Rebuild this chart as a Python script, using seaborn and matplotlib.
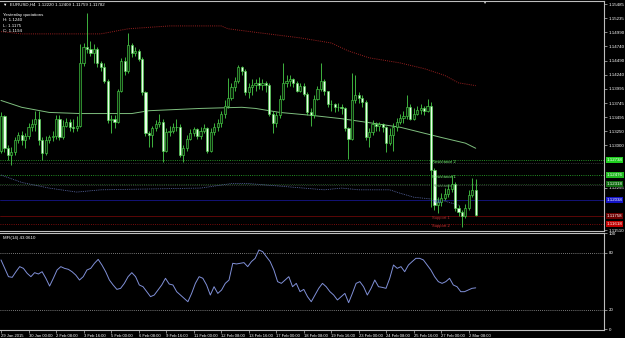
import numpy as np
import pandas as pd
import matplotlib
matplotlib.use("Agg")
import matplotlib.pyplot as plt
import seaborn as sns

# ---------------- data (EURUSD H4) ----------------
open_first = 1.1291
close = [1.1351, 1.1295, 1.1283, 1.1288, 1.1309, 1.1318, 1.1309, 1.1316, 1.1333, 1.1337,
         1.1347, 1.1309, 1.1286, 1.1309, 1.1314, 1.1316, 1.1347, 1.1314, 1.1335, 1.1342,
         1.1333, 1.1330, 1.1335, 1.1444, 1.1473, 1.1470, 1.1463, 1.1470, 1.1445, 1.1438,
         1.1414, 1.1344, 1.1347, 1.1342, 1.1396, 1.1449, 1.1431, 1.1477, 1.1463, 1.1466,
         1.1452, 1.1393, 1.1321, 1.1318, 1.1330, 1.1337, 1.1342, 1.1291, 1.1323, 1.1326,
         1.1332, 1.1333, 1.1284, 1.1295, 1.1312, 1.1321, 1.1328, 1.1316, 1.1326, 1.1330,
         1.1291, 1.1323, 1.1332, 1.1340, 1.1356, 1.1370, 1.1384, 1.1403, 1.1414, 1.1437,
         1.1431, 1.1393, 1.1402, 1.1407, 1.1410, 1.1407, 1.1410, 1.1407, 1.1356, 1.1340,
         1.1353, 1.1382, 1.1410, 1.1414, 1.1416, 1.1410, 1.1396, 1.1405, 1.1391, 1.1358,
         1.1353, 1.1382, 1.1400, 1.1414, 1.1395, 1.1372, 1.1372, 1.1367, 1.1368, 1.1365,
         1.1330, 1.1312, 1.1379, 1.1388, 1.1384, 1.1377, 1.1314, 1.1323, 1.1337, 1.1335,
         1.1337, 1.1332, 1.1304, 1.1318, 1.1333, 1.1342, 1.1349, 1.1351, 1.1367, 1.1347,
         1.1356, 1.1363, 1.1365, 1.1361, 1.1370, 1.1256, 1.1195, 1.1200, 1.1207, 1.1214,
         1.1223, 1.1232, 1.1190, 1.1183, 1.1176, 1.1190, 1.1213, 1.1222, 1.11782]
high = [1.1358, 1.1353, 1.1300, 1.1297, 1.1314, 1.1323, 1.1326, 1.1321, 1.1340, 1.1347,
        1.1361, 1.1361, 1.1314, 1.1316, 1.1319, 1.1326, 1.1353, 1.1353, 1.1344, 1.1349,
        1.1347, 1.1347, 1.1351, 1.1479, 1.1480, 1.1533, 1.1484, 1.1479, 1.1473, 1.1449,
        1.1444, 1.1417, 1.1353, 1.1353, 1.1400, 1.1454, 1.1456, 1.1498, 1.1480, 1.1473,
        1.1470, 1.1456, 1.1396, 1.1326, 1.1335, 1.1344, 1.1356, 1.1346, 1.1330, 1.1335,
        1.1340, 1.1347, 1.1337, 1.1300, 1.1318, 1.1328, 1.1333, 1.1330, 1.1333, 1.1337,
        1.1333, 1.1330, 1.1339, 1.1347, 1.1361, 1.1379, 1.1419, 1.1410, 1.1421, 1.1442,
        1.1440, 1.1435, 1.1410, 1.1417, 1.1417, 1.1421, 1.1417, 1.1414, 1.1410, 1.1361,
        1.1358, 1.1388, 1.1445, 1.1423, 1.1423, 1.1419, 1.1414, 1.1410, 1.1410, 1.1393,
        1.1365, 1.1389, 1.1405, 1.1445, 1.1417, 1.1396, 1.1379, 1.1375, 1.1375, 1.1372,
        1.1367, 1.1333, 1.1428, 1.1423, 1.1393, 1.1389, 1.1379, 1.1330, 1.1344, 1.1342,
        1.1342, 1.1340, 1.1335, 1.1330, 1.1339, 1.1349, 1.1356, 1.1361, 1.1388, 1.1372,
        1.1365, 1.1370, 1.1372, 1.1370, 1.1382, 1.1377, 1.1260, 1.1209, 1.1216, 1.1225,
        1.1232, 1.1248, 1.1235, 1.1195, 1.1186, 1.1197, 1.1222, 1.1242, 1.12409]
low = [1.1286, 1.1288, 1.1274, 1.1265, 1.1283, 1.1304, 1.1300, 1.1295, 1.1312, 1.1326,
       1.1326, 1.1300, 1.1274, 1.1283, 1.1305, 1.1307, 1.1312, 1.1309, 1.1311, 1.1332,
       1.1326, 1.1323, 1.1326, 1.1332, 1.1440, 1.1463, 1.1458, 1.1445, 1.1438, 1.1431,
       1.1410, 1.1340, 1.1321, 1.1330, 1.1339, 1.1393, 1.1423, 1.1428, 1.1456, 1.1458,
       1.1449, 1.1389, 1.1316, 1.1297, 1.1297, 1.1326, 1.1332, 1.1270, 1.1288, 1.1316,
       1.1321, 1.1325, 1.1279, 1.1270, 1.1291, 1.1309, 1.1316, 1.1311, 1.1312, 1.1321,
       1.1286, 1.1288, 1.1318, 1.1326, 1.1333, 1.1349, 1.1365, 1.1379, 1.1396, 1.1410,
       1.1424, 1.1388, 1.1384, 1.1389, 1.1396, 1.1400, 1.1398, 1.1393, 1.1351, 1.1321,
       1.1333, 1.1349, 1.1379, 1.1403, 1.1405, 1.1403, 1.1393, 1.1393, 1.1386, 1.1353,
       1.1335, 1.1349, 1.1379, 1.1396, 1.1389, 1.1367, 1.1361, 1.1358, 1.1361, 1.1356,
       1.1325, 1.1277, 1.1309, 1.1374, 1.1375, 1.1368, 1.1309, 1.1297, 1.1318, 1.1326,
       1.1326, 1.1323, 1.1288, 1.1300, 1.1291, 1.1326, 1.1337, 1.1340, 1.1347, 1.1344,
       1.1344, 1.1353, 1.1356, 1.1354, 1.1358, 1.1192, 1.1186, 1.1181, 1.1193, 1.1204,
       1.1209, 1.1218, 1.1185, 1.1176, 1.1157, 1.1172, 1.1186, 1.1209, 1.11759]

# moving averages (knots: bar index, price)
ma_red_bars = [0, 6, 29, 37, 49, 64, 66, 75, 87, 96, 101, 107, 116, 123, 129, 133, 138]
ma_red_vals = [1.1500, 1.1496, 1.1496, 1.1505, 1.1510, 1.1510, 1.1505, 1.1498, 1.1489,
               1.1480, 1.1466, 1.1454, 1.1445, 1.1435, 1.1423, 1.1410, 1.1405]
ma_green_bars = [0, 6, 14, 23, 38, 43, 58, 70, 74, 81, 90, 99, 107, 116, 122, 128, 135, 138]
ma_green_vals = [1.1379, 1.1367, 1.1358, 1.1356, 1.1356, 1.1361, 1.1365, 1.1367, 1.1365,
                 1.1358, 1.1353, 1.1347, 1.1340, 1.1332, 1.1323, 1.1314, 1.1304, 1.1295]
ma_blue_bars = [0, 6, 14, 22, 29, 58, 67, 72, 78, 94, 99, 104, 113, 116, 120, 128, 133]
ma_blue_vals = [1.1248, 1.1235, 1.1225, 1.1218, 1.1222, 1.1225, 1.1233, 1.1233, 1.1230,
                1.1222, 1.1225, 1.1222, 1.1222, 1.1216, 1.1209, 1.1204, 1.1195]

# pivot levels
pivot_names = ["Resistance 2", "Resistance 1", "Resistance", "Pivot", "Support 1", "Support 2"]
pivot_vals = [1.12738, 1.12476, 1.12318, 1.12038, 1.11758, 1.11618]
pivot_colors = ["#1fd01f", "#1fb81f", "#0f6a0f", "#1414c8", "#6a0000", "#c00000"]
pivot_line_colors = ["#2fbf2f", "#2fbf2f", "#2a6a2a", "#16168a", "#6a0808", "#a01010"]
pivot_text_colors = ["#7dff7d", "#7dff7d", "#5a9a5a", "#4a5cd8", "#b03030", "#d03030"]
pivot_line_styles = [":", ":", ":", "-", "-", ":"]

price_ticks = [1.15485, 1.15235, 1.14990, 1.14740, 1.14490, 1.14240, 1.13995, 1.13745,
               1.13495, 1.13250, 1.13000, 1.12255, 1.11510]

mfi = [72.3, 63.5, 54.8, 54.1, 60.0, 65.3, 63.5, 58.3, 54.8, 59.0, 57.6, 60.0, 53.1, 45.0,
       53.1, 61.8, 65.3, 63.5, 62.5, 60.0, 56.5, 51.3, 54.8, 61.8, 63.5, 68.8, 72.9, 67.0,
       60.0, 51.3, 46.1, 41.5, 42.6, 47.8, 54.8, 59.0, 54.8, 46.1, 44.3, 39.1, 33.9, 35.6,
       40.8, 46.1, 53.1, 47.1, 46.1, 39.1, 35.6, 32.1, 28.6, 37.3, 47.8, 54.8, 53.1, 46.1,
       35.6, 44.3, 37.3, 40.8, 47.8, 51.3, 68.8, 68.1, 68.8, 69.5, 65.3, 70.6, 74.0, 82.7,
       81.0, 75.7, 70.6, 61.8, 49.6, 47.8, 51.3, 54.8, 44.3, 47.8, 39.1, 41.5, 33.9, 28.6,
       35.6, 42.6, 47.8, 44.3, 39.1, 35.6, 30.4, 33.9, 37.3, 27.6, 37.3, 47.8, 49.6, 44.3,
       35.6, 42.6, 51.3, 44.3, 43.6, 42.6, 53.1, 67.0, 63.5, 65.3, 60.0, 67.0, 70.6, 74.0,
       74.0, 72.3, 67.0, 61.8, 54.8, 49.6, 47.8, 49.6, 53.1, 46.1, 44.3, 39.1, 39.1, 40.8,
       42.6, 43.1]
mfi_levels = [80, 20]

date_labels = ["29 Jan 2015", "30 Jan 00:00", "2 Feb 08:00", "3 Feb 16:00", "5 Feb 00:00",
               "6 Feb 08:00", "9 Feb 16:00", "11 Feb 00:00", "12 Feb 08:00", "13 Feb 16:00",
               "17 Feb 00:00", "18 Feb 08:00", "19 Feb 16:00", "23 Feb 00:00", "24 Feb 08:00",
               "25 Feb 16:00", "27 Feb 00:00", "2 Mar 08:00"]
date_label_bars = list(range(0, 137, 8))

# ---------------- styling ----------------
sns.set_theme(style="dark", rc={"axes.facecolor": "black", "figure.facecolor": "black"})
plt.rcParams["font.family"] = ["Liberation Sans", "DejaVu Sans"]
FS = 3.2

W, H = 625, 338
fig = plt.figure(figsize=(W / 100, H / 100), dpi=100, facecolor="black")
ax = fig.add_axes([0, 1 - 231 / H, 604 / W, 230 / H])
ax2 = fig.add_axes([0, 1 - 330 / H, 604 / W, 97 / H])
for a in (ax, ax2):
    a.set_facecolor("black")
    for s in a.spines.values():
        s.set_color("#bdbdbd")
        s.set_linewidth(0.8)
    a.spines["left"].set_visible(False)
    a.grid(False)

n = len(close)
bars = np.arange(n)
close_a = np.array(close)
open_a = np.concatenate([[open_first], close_a[:-1]])
high_a = np.array(high)
low_a = np.array(low)

# horizontal pivot lines
for v, c, ls in zip(pivot_vals, pivot_line_colors, pivot_line_styles):
    ax.axhline(v, color=c, lw=0.6, ls=ls, zorder=1)
ax.axhline(1.1269, color="#606060", lw=0.5, ls=":", zorder=1)
ax.axhline(1.1230, color="#606060", lw=0.5, ls=":", zorder=1)

# moving averages via seaborn
sns.lineplot(x=ma_red_bars, y=ma_red_vals, ax=ax, color="#9a2020", lw=0.7,
             linestyle=(0, (1, 1.2)), zorder=2)
sns.lineplot(x=ma_green_bars, y=ma_green_vals, ax=ax, color="#7fbf7f", lw=0.7, zorder=2)
sns.lineplot(x=ma_blue_bars, y=ma_blue_vals, ax=ax, color="#5f6fb0", lw=0.6,
             linestyle=(0, (1, 1.2)), zorder=2)

# candles
green = "#48d048"
ax.vlines(bars, low_a, high_a, color=green, lw=0.6, zorder=3)
bull = close_a >= open_a
body_lo = np.minimum(open_a, close_a)
body_h = np.maximum(np.abs(close_a - open_a), 0.00006)
ax.bar(bars[bull], body_h[bull], bottom=body_lo[bull], width=0.62,
       color="#0a200a", edgecolor=green, linewidth=0.45, zorder=4)
ax.bar(bars[~bull], body_h[~bull], bottom=body_lo[~bull], width=0.62,
       color="#eaffea", edgecolor=green, linewidth=0.45, zorder=4)

# pivot names on chart
for name, v, tc in zip(pivot_names, pivot_vals, pivot_text_colors):
    ax.text(125.4, v, name, fontsize=3.0, color=tc, va="top", ha="left", zorder=5)

ax.set_xlim((0 - 1) / 3.44, (604 - 1) / 3.44)
ax.set_ylim(1.11496, 1.15538)
ax.set_xticks([])
ax.yaxis.tick_right()
ax.set_yticks(price_ticks)
ax.set_yticklabels([f"{t:.5f}" for t in price_ticks])
ax.tick_params(axis="y", colors="#bdbdbd", labelcolor="white", labelsize=FS,
               length=2, width=0.5, pad=1.2, right=True, left=False)

# pivot value boxes on the price scale
for v, c in zip(pivot_vals, pivot_colors):
    ax.text(1.0045, v, f"{v:.5f}", transform=ax.get_yaxis_transform(), fontsize=FS,
            color="white", va="center", ha="left", zorder=10, clip_on=False,
            bbox=dict(boxstyle="square,pad=0.2", fc=c, ec="none"))

# header texts
fig.text(3 / W, 1 - 5 / H, "\u25bc  EURUSD,H4  1.12220 1.12409 1.11759 1.11782",
         fontsize=FS, color="white", va="center", ha="left")
for i, t in enumerate(["Yesterday quotations", "H: 1.1240", "L: 1.1175", "C: 1.1194"]):
    fig.text(3 / W, 1 - (15 + i * 5.3) / H, t, fontsize=FS, color="white",
             va="center", ha="left")
fig.text(484 / W, 1 - 3 / H, "\u25bc", fontsize=3.0, color="#d0d0d0", va="center", ha="center")

# MFI sub window
ax2.set_xlim(ax.get_xlim())
ax2.set_ylim(-1.0, 100.5)
for lv in mfi_levels:
    ax2.axhline(lv, color="#a0a0a0", lw=0.6, ls=(0, (1, 1.5)), zorder=1)
mfi_x = np.linspace(0, n - 1, len(mfi))
sns.lineplot(x=mfi_x, y=mfi, ax=ax2, color="#8090d8", lw=0.7, zorder=3)
ax2.text(0.005, 0.965, "MFI(14) 43.0610", transform=ax2.transAxes, fontsize=FS,
         color="white", va="top", ha="left")
ax2.yaxis.tick_right()
ax2.set_yticks([100, 80, 20, 0])
ax2.set_yticklabels(["100", "80", "20", "0"])
ax2.tick_params(axis="y", colors="#bdbdbd", labelcolor="white", labelsize=FS,
                length=2, width=0.5, pad=1.2, right=True, left=False)
ax2.set_xticks(date_label_bars)
ax2.set_xticklabels(date_labels)
for lab in ax2.get_xticklabels():
    lab.set_horizontalalignment("left")
ax2.tick_params(axis="x", colors="#bdbdbd", labelcolor="white", labelsize=3.0,
                length=2, width=0.5, pad=0.8, bottom=True)
ax2.set_xlabel("")
ax2.set_ylabel("")
ax.set_xlabel("")
ax.set_ylabel("")

fig.savefig("out.png", dpi=100, facecolor="black")
